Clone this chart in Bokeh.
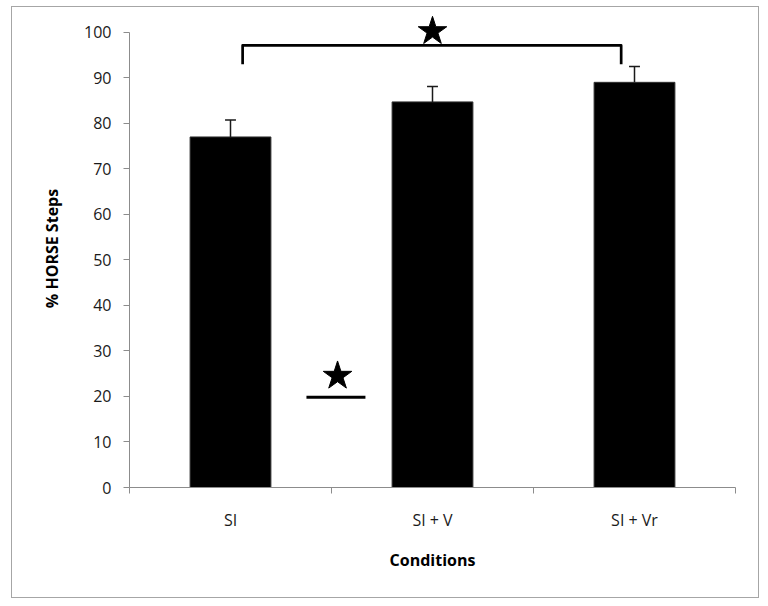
from bokeh.plotting import figure
from bokeh.models import FixedTicker, Range1d, ColumnDataSource
from bokeh.embed import file_html
from bokeh.resources import INLINE

# ---- data ----
conditions = ["SI", "SI + V", "SI + Vr"]
means = [77.0, 84.7, 89.0]
errors = [3.7, 3.4, 3.5]
y_ticks = [0, 10, 20, 30, 40, 50, 60, 70, 80, 90, 100]

# significance annotations (data coordinates)
bracket_x = [0.56, 0.56, 2.434, 2.434]
bracket_y = [93.0, 97.1, 97.1, 93.0]
top_star_x = [1.5]
top_star_y = [100.2]
low_star_x = [1.03]
low_star_y = [24.5]
low_line_x = [0.876, 1.168]
low_line_y = [19.8, 19.8]

FONT = "Open Sans"
AXIS_GREY = "#8c8c8c"
TEXT = "#1a1a1a"

centers = [i + 0.5 for i in range(len(conditions))]
uppers = [m + e for m, e in zip(means, errors)]
src = ColumnDataSource(dict(x=centers, top=means, upper=uppers, label=conditions))

p = figure(width=746, height=590, output_backend="svg", toolbar_location=None,
           x_range=Range1d(0, 3), y_range=Range1d(0, 105),
           min_border_left=117, min_border_right=23, min_border_top=2, min_border_bottom=110)
p.margin = (7, 0, 0, 12)
p.stylesheets = [":host { outline: 1px solid #a6a6a6; }"]
p.outline_line_color = None
p.xgrid.grid_line_color = None
p.ygrid.grid_line_color = None
p.background_fill_color = "white"
p.border_fill_color = "white"

# bars
p.vbar(x="x", top="top", bottom=0, width=0.4, source=src,
       fill_color="black", line_color="#303030", line_width=1)

# error bars (upper only)
p.segment(x0="x", y0="top", x1="x", y1="upper", source=src, line_color="#1a1a1a", line_width=1.5)
cap = 0.027
p.segment(x0=[c - cap for c in centers], y0=uppers, x1=[c + cap for c in centers], y1=uppers,
          line_color="#1a1a1a", line_width=1.5)

# bracket + stars
p.line(bracket_x, bracket_y, line_color="black", line_width=2.7, line_join="round")
p.scatter(top_star_x, top_star_y, marker="star", size=30, fill_color="black", line_color="black")
p.scatter(low_star_x, low_star_y, marker="star", size=30, fill_color="black", line_color="black")
p.line(low_line_x, low_line_y, line_color="black", line_width=3)

# y axis
ya = p.yaxis[0]
ya.ticker = FixedTicker(ticks=y_ticks, minor_ticks=[])
ya.bounds = (0, 100)
ya.axis_line_color = AXIS_GREY
ya.major_tick_line_color = AXIS_GREY
ya.major_tick_out = 6
ya.major_tick_in = 0
ya.minor_tick_line_color = None
ya.major_label_text_font = FONT
ya.major_label_text_font_size = "16px"
ya.major_label_text_color = TEXT
ya.major_label_standoff = 12
ya.axis_label = "% HORSE Steps"
ya.axis_label_text_font = FONT
ya.axis_label_text_font_size = "16px"
ya.axis_label_text_font_style = "bold"
ya.axis_label_text_color = "black"
ya.axis_label_standoff = 18

# x axis: labels at category centers, ticks at category boundaries
xa = p.xaxis[0]
xa.ticker = FixedTicker(ticks=centers, minor_ticks=[0, 1, 2, 3])
xa.major_label_overrides = {c: lab for c, lab in zip(centers, conditions)}
xa.axis_line_color = AXIS_GREY
xa.major_tick_line_color = None
xa.major_tick_out = 0
xa.major_tick_in = 0
xa.minor_tick_line_color = AXIS_GREY
xa.minor_tick_out = 6
xa.minor_tick_in = 0
xa.major_label_text_font = FONT
xa.major_label_text_font_size = "16px"
xa.major_label_text_color = TEXT
xa.major_label_standoff = 15
xa.axis_label = "Conditions"
xa.axis_label_text_font = FONT
xa.axis_label_text_font_size = "16px"
xa.axis_label_text_font_style = "bold"
xa.axis_label_text_color = "black"
xa.axis_label_standoff = 15

open("out.html", "w").write(file_html(p, INLINE))
